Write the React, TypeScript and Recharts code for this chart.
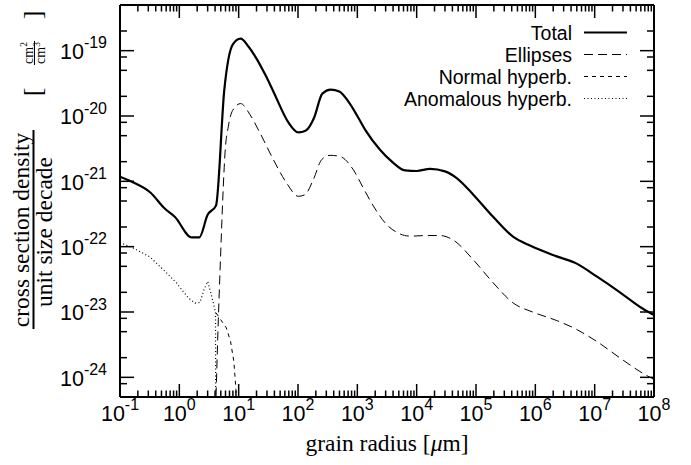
import React from "react";
import { LineChart, Line, XAxis, YAxis } from "recharts";

// ---------- data (grain radius in µm, cross section density per decade in cm^2/cm^3) ----------
const totalX = [0.1, 0.168, 0.321, 0.573, 0.845, 1.61, 2.17, 3.01, 4.15, 5.73, 7.93, 10.8, 14.6, 20.1, 28.0, 38.4, 68.7, 101, 136, 186, 257, 356, 497, 708, 1000, 1350, 2410, 3790, 6370, 1.0e4, 1.68e4, 3.0e4, 4.73e4, 9.0e4, 1.96e5, 4.26e5, 8.13e5, 2.29e6, 4.98e6, 1.08e7, 2.67e7, 6.61e7, 1e8];
const totalY = [1.17e-21, 9.6e-22, 6.8e-22, 3.8e-22, 2.84e-22, 1.39e-22, 1.39e-22, 3.1e-22, 4.25e-22, 2.53e-20, 1.24e-19, 1.53e-19, 1.16e-19, 7.5e-20, 4.3e-20, 2.38e-20, 8.0e-21, 5.6e-21, 6.0e-21, 9.3e-21, 2.2e-20, 2.53e-20, 2.38e-20, 1.66e-20, 1.0e-20, 6.2e-21, 3.05e-21, 2.02e-21, 1.47e-21, 1.44e-21, 1.55e-21, 1.42e-21, 1.12e-21, 6.25e-22, 2.84e-22, 1.41e-22, 1.04e-22, 7.1e-23, 5.5e-23, 3.5e-23, 2.0e-23, 1.11e-23, 9.0e-24];

const ellipsesX = [4.15, 4.54, 4.98, 5.51, 5.89, 6.70, 7.93, 10.8, 15.5, 22.9, 38.4, 64.4, 101, 131, 181, 251, 347, 511, 857, 1260, 1860, 3130, 4600, 7730, 1.48e4, 2.47e4, 4.15e4, 9.0e4, 1.96e5, 4.26e5, 9.25e5, 2.29e6, 4.98e6, 1.08e7, 2.67e7, 6.61e7, 1e8];
const ellipsesY = [5.1e-25, 7.6e-24, 8.0e-23, 8.4e-22, 2.72e-21, 6.95e-21, 1.22e-20, 1.55e-20, 1.05e-20, 5.5e-21, 2.15e-21, 9.4e-22, 5.9e-22, 6.25e-22, 1.06e-21, 2.15e-21, 2.5e-21, 2.4e-21, 1.5e-21, 7.9e-22, 4.2e-22, 2.17e-22, 1.66e-22, 1.45e-22, 1.48e-22, 1.48e-22, 1.26e-22, 6.3e-23, 2.78e-23, 1.37e-23, 9.9e-24, 7.4e-24, 5.4e-24, 3.55e-24, 1.98e-24, 1.14e-24, 9.3e-25];

const normalX = [4.15, 5.0, 6.2, 7.3, 8.3, 9.0, 9.3];
const normalY = [9.7e-24, 7.6e-24, 5.7e-24, 3.55e-24, 1.74e-24, 6.5e-25, 3e-25];

const anomalousX = [0.1, 0.168, 0.321, 0.573, 0.90, 1.42, 1.84, 2.23, 2.61, 3.01, 3.51, 4.07, 4.16];
const anomalousY = [1.16e-22, 9.5e-23, 6.95e-23, 4.19e-23, 2.78e-23, 1.64e-23, 1.37e-23, 1.40e-23, 2.2e-23, 2.94e-23, 1.74e-23, 1.0e-23, 1e-27];

// ---------- axes ----------
const xDomain = [0.1, 1e8];
const yDomain = [5e-25, 5e-19];
const xMajorExp = [-1, 0, 1, 2, 3, 4, 5, 6, 7, 8];
const xMinorMult = [2, 3, 4, 5, 6, 7, 8, 9];
const yMajorExp = [-24, -23, -22, -21, -20, -19];
const yMinorMult = [2, 5, 8];

const pow = (m: number, e: number) => Number(`${m}e${e}`);
const xTicks: number[] = [];
xMajorExp.forEach((e) => {
  xTicks.push(pow(1, e));
  if (e < 8) xMinorMult.forEach((m) => xTicks.push(pow(m, e)));
});
const yTicks: number[] = [];
[-25, ...yMajorExp].forEach((e) => {
  const v = pow(1, e);
  if (v >= yDomain[0] && v <= yDomain[1]) yTicks.push(v);
  yMinorMult.forEach((m) => {
    const w = pow(m, e);
    if (w >= yDomain[0] * 0.999 && w <= yDomain[1] * 1.001) yTicks.push(w);
  });
});
yTicks.sort((a, b) => a - b);

const zip = (xs: number[], ys: number[]) => xs.map((x, i) => ({ x, y: ys[i] }));

// ---------- layout ----------
const W = 691;
const H = 465;
const PL = 120;
const PR = 654;
const PT = 5;
const PB = 397;
const MAJ = 13;
const MIN = 6.5;
const SANS = "'Liberation Sans', Arial, Helvetica, sans-serif";
const SERIF = "'Liberation Serif', 'Times New Roman', Times, serif";

const isMajor = (v: number) => {
  const l = Math.log10(v);
  return Math.abs(l - Math.round(l)) < 1e-6;
};

const series = [
  { name: "Total", xs: totalX, ys: totalY, width: 2.2, dash: undefined as string | undefined, curve: "monotone" },
  { name: "Ellipses", xs: ellipsesX, ys: ellipsesY, width: 1, dash: "9 5", curve: "monotone" },
  { name: "Normal hyperb.", xs: normalX, ys: normalY, width: 1, dash: "4 4", curve: "linear" },
  { name: "Anomalous hyperb.", xs: anomalousX, ys: anomalousY, width: 1.2, dash: "1 2.5", curve: "linear" },
];

const BottomTick = (p: any) => {
  const v = p.payload.value;
  const maj = isMajor(v);
  return (
    <g>
      <line x1={p.x} x2={p.x} y1={PB} y2={PB - (maj ? MAJ : MIN)} stroke="#000" strokeWidth={1.5} />
      {maj && (
        <text x={p.x} y={421} textAnchor="middle" fontFamily={SANS} fontSize={21.5} fill="#000">
          10<tspan dy={-11.5} fontSize={16}>{Math.round(Math.log10(v))}</tspan>
        </text>
      )}
    </g>
  );
};

const TopTick = (p: any) => {
  const v = p.payload.value;
  const maj = isMajor(v);
  return <line x1={p.x} x2={p.x} y1={PT} y2={PT + (maj ? MAJ : MIN)} stroke="#000" strokeWidth={1.5} />;
};

const LeftTick = (p: any) => {
  const v = p.payload.value;
  const maj = isMajor(v);
  return (
    <g>
      <line x1={PL} x2={PL + (maj ? MAJ + 1 : MIN + 0.5)} y1={p.y} y2={p.y} stroke="#000" strokeWidth={1.5} />
      {maj && (
        <text x={107} y={p.y + 8.5} textAnchor="end" fontFamily={SANS} fontSize={21.5} fill="#000">
          10<tspan dy={-10.7} fontSize={16}>{Math.round(Math.log10(v))}</tspan>
        </text>
      )}
    </g>
  );
};

const RightTick = (p: any) => {
  const v = p.payload.value;
  const maj = isMajor(v);
  return <line x1={PR} x2={PR - (maj ? MAJ + 1 : MIN + 0.5)} y1={p.y} y2={p.y} stroke="#000" strokeWidth={1.5} />;
};

const legendRows = [32.5, 54.5, 76.5, 98.5];
const LEGEND_FONT = 19.5;

export default function App() {
  return (
    <div style={{ position: "absolute", left: 0, top: 0, width: W, height: H, background: "#fff" }}>
      <div style={{ position: "absolute", left: 0, top: 0 }}>
        <LineChart width={W} height={H} margin={{ top: 0, right: 0, bottom: 0, left: 0 }}>
          <XAxis
            xAxisId="b"
            dataKey="x"
            type="number"
            scale="log"
            domain={xDomain}
            allowDataOverflow
            ticks={xTicks}
            interval={0}
            height={H - PB}
            orientation="bottom"
            axisLine={{ stroke: "#000", strokeWidth: 2 }}
            tickLine={false}
            tick={<BottomTick />}
          />
          <XAxis
            xAxisId="t"
            dataKey="x"
            type="number"
            scale="log"
            domain={xDomain}
            allowDataOverflow
            ticks={xTicks}
            interval={0}
            height={PT}
            orientation="top"
            axisLine={{ stroke: "#000", strokeWidth: 2 }}
            tickLine={false}
            tick={<TopTick />}
          />
          <YAxis
            yAxisId="l"
            type="number"
            scale="log"
            domain={yDomain}
            allowDataOverflow
            ticks={yTicks}
            interval={0}
            width={PL}
            orientation="left"
            axisLine={{ stroke: "#000", strokeWidth: 2 }}
            tickLine={false}
            tick={<LeftTick />}
          />
          <YAxis
            yAxisId="r"
            type="number"
            scale="log"
            domain={yDomain}
            allowDataOverflow
            ticks={yTicks}
            interval={0}
            width={W - PR}
            orientation="right"
            axisLine={{ stroke: "#000", strokeWidth: 2 }}
            tickLine={false}
            tick={<RightTick />}
          />
          {series.map((s) => (
            <Line
              key={s.name}
              xAxisId="b"
              yAxisId="l"
              data={zip(s.xs, s.ys)}
              dataKey="y"
              name={s.name}
              type={s.curve as any}
              stroke="#000"
              strokeWidth={s.width}
              strokeDasharray={s.dash}
              dot={false}
              activeDot={false}
              isAnimationActive={false}
            />
          ))}
        </LineChart>
      </div>
      <svg width={W} height={H} style={{ position: "absolute", left: 0, top: 0, pointerEvents: "none" }}>
        {/* legend */}
        {series.map((s, i) => (
          <g key={s.name}>
            <text x={572} y={legendRows[i] + 7} textAnchor="end" fontFamily={SANS} fontSize={LEGEND_FONT} fill="#000">
              {s.name}
            </text>
            <line x1={584} x2={627} y1={legendRows[i]} y2={legendRows[i]} stroke="#000" strokeWidth={s.width} strokeDasharray={s.dash} />
          </g>
        ))}
        {/* x axis title */}
        <text x={(PL + PR) / 2} y={451} textAnchor="middle" fontFamily={SERIF} fontSize={23.5} fill="#000">
          grain radius [<tspan fontStyle="italic">μ</tspan>m]
        </text>
        {/* y axis title */}
        <text transform="translate(29,230) rotate(-90)" textAnchor="middle" fontFamily={SERIF} fontSize={23.5} fill="#000">
          cross section density
        </text>
        <line x1={33.5} x2={33.5} y1={130} y2={329} stroke="#000" strokeWidth={2} />
        <text transform="translate(52,232) rotate(-90)" textAnchor="middle" fontFamily={SERIF} fontSize={23.5} fill="#000">
          unit size decade
        </text>
        <text transform="translate(41,92) rotate(-90)" textAnchor="middle" fontFamily={SERIF} fontSize={26} fill="#000">
          [
        </text>
        <text transform="translate(41,15) rotate(-90)" textAnchor="middle" fontFamily={SERIF} fontSize={26} fill="#000">
          ]
        </text>
        <text transform="translate(32.5,53) rotate(-90)" textAnchor="middle" fontFamily={SERIF} fontSize={14} fill="#000">
          cm<tspan dy={-5.5} fontSize={9.5}>2</tspan>
        </text>
        <line x1={34.5} x2={34.5} y1={41} y2={65} stroke="#000" strokeWidth={1} />
        <text transform="translate(45,53) rotate(-90)" textAnchor="middle" fontFamily={SERIF} fontSize={14} fill="#000">
          cm<tspan dy={-5.5} fontSize={9.5}>3</tspan>
        </text>
      </svg>
    </div>
  );
}
